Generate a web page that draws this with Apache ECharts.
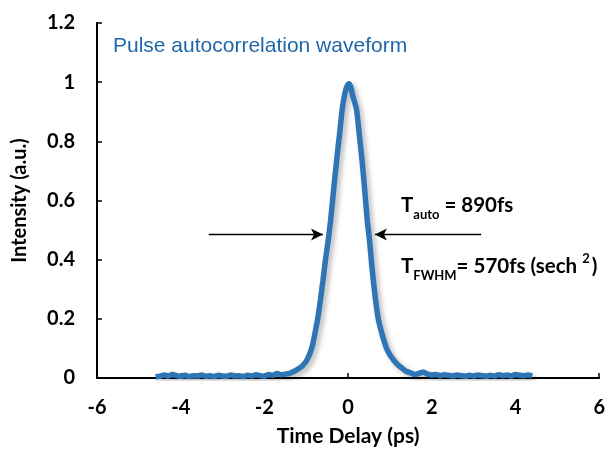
<!DOCTYPE html>
<html>
<head>
<meta charset="utf-8">
<script src="https://cdn.jsdelivr.net/npm/echarts@6/dist/echarts.min.js"></script>
<style>
html,body{margin:0;padding:0;background:#fff;}
#chart{width:608px;height:452px;}
</style>
</head>
<body>
<div id="chart"></div>
<script>
const timePs = [
  -4.6,-4.5,-4.4,-4.3,-4.2,-4.1,-4.0,-3.9,-3.8,-3.7,-3.6,-3.5,-3.4,-3.3,-3.2,-3.1,-3.0,-2.9,-2.8,-2.7,
  -2.6,-2.5,-2.4,-2.3,-2.2,-2.1,-2.0,-1.9,-1.8,-1.7,-1.6,-1.5,-1.4,-1.3,-1.2,-1.1,-1.0,-0.92,-0.85,-0.78,
  -0.72,-0.66,-0.6,-0.54,-0.48,-0.42,-0.35,-0.27,-0.2,-0.14,-0.08,-0.03,0.02,0.06,0.12,0.2,0.27,0.33,0.4,0.46,
  0.51,0.56,0.61,0.66,0.72,0.78,0.84,0.92,1.0,1.1,1.2,1.3,1.4,1.5,1.6,1.7,1.8,1.9,2.0,2.1,
  2.2,2.3,2.4,2.5,2.6,2.7,2.8,2.9,3.0,3.1,3.2,3.3,3.4,3.5,3.6,3.7,3.8,3.9,4.0,4.1,
  4.2,4.3,4.4
];
const intensity = [
  0.004,0.006,0.010,0.007,0.012,0.008,0.006,0.009,0.005,0.008,0.007,0.010,0.006,0.008,0.005,0.009,0.007,0.006,0.010,0.007,
  0.008,0.005,0.009,0.007,0.011,0.008,0.006,0.012,0.009,0.015,0.011,0.013,0.016,0.022,0.030,0.040,0.057,0.080,0.111,0.160,
  0.205,0.265,0.330,0.400,0.460,0.530,0.630,0.741,0.830,0.909,0.960,0.985,0.995,0.985,0.950,0.909,0.820,0.741,0.630,0.530,
  0.468,0.390,0.320,0.260,0.200,0.165,0.134,0.100,0.078,0.058,0.043,0.032,0.022,0.017,0.012,0.016,0.020,0.013,0.010,0.012,
  0.008,0.011,0.009,0.007,0.010,0.008,0.006,0.009,0.007,0.010,0.008,0.006,0.009,0.007,0.011,0.008,0.010,0.007,0.012,0.009,
  0.008,0.010,0.007
];
const xTicks = { min: -6, max: 6, step: 2 };
const yTicks = { min: 0, max: 1.2, step: 0.2 };
const titleText = 'Pulse autocorrelation waveform';
const arrowLevel = 0.485;
const leftArrow = [-3.33, -0.6];
const rightArrow = [3.18, 0.64];

const points = timePs.map((t, i) => [t, intensity[i]]);
const chart = echarts.init(document.getElementById('chart'));
const boldFont = 'Lato';
const bigTxt = { fontFamily: boldFont, fontWeight: 'bold', fontSize: 20.5, color: '#000', padding: [0,0,5,0], verticalAlign: 'bottom' };
const subTxt = { fontFamily: boldFont, fontWeight: 'bold', fontSize: 13, color: '#000', verticalAlign: 'bottom' };
const supTxt = { fontFamily: boldFont, fontWeight: 'bold', fontSize: 13, color: '#000', padding: [0,2,17,5], verticalAlign: 'bottom' };

chart.setOption({
  animation: false,
  grid: { left: 97, right: 8, top: 23, bottom: 71 },
  xAxis: {
    type: 'value', min: xTicks.min, max: xTicks.max, interval: xTicks.step,
    name: 'Time Delay (ps)', nameLocation: 'middle', nameGap: 48,
    nameTextStyle: { fontFamily: boldFont, fontWeight: 'bold', fontSize: 21, color: '#000' },
    axisLine: { onZero: false, lineStyle: { color: '#000', width: 2 } },
    axisTick: { inside: true, length: 5, lineStyle: { color: '#000', width: 1.5 } },
    axisLabel: { fontFamily: boldFont, fontWeight: 'bold', fontSize: 20, color: '#000', margin: 20 },
    splitLine: { show: false }
  },
  yAxis: {
    type: 'value', min: yTicks.min, max: yTicks.max, interval: yTicks.step,
    name: 'Intensity (a.u.)', nameLocation: 'middle', nameGap: 67,
    nameTextStyle: { fontFamily: boldFont, fontWeight: 'bold', fontSize: 20, color: '#000' },
    axisLine: { show: true, onZero: false, lineStyle: { color: '#000', width: 2 } },
    axisTick: { show: true, inside: true, length: 5, lineStyle: { color: '#000', width: 1.5 } },
    axisLabel: { fontFamily: boldFont, fontWeight: 'bold', fontSize: 20, color: '#000', margin: 22 },
    splitLine: { show: false }
  },
  series: [{
    type: 'line',
    data: points,
    showSymbol: false,
    smooth: 0.2,
    lineStyle: { color: '#2E75B6', width: 5.5, shadowColor: 'rgba(0,0,0,0.28)', shadowBlur: 5, shadowOffsetX: 3, shadowOffsetY: 3 },
    markLine: {
      silent: true,
      symbol: ['none', 'arrow'],
      symbolSize: [9, 12],
      label: { show: false },
      lineStyle: { color: '#000', width: 1.3, type: 'solid' },
      data: [
        [{ coord: [leftArrow[0], arrowLevel] }, { coord: [leftArrow[1], arrowLevel] }],
        [{ coord: [rightArrow[0], arrowLevel] }, { coord: [rightArrow[1], arrowLevel] }]
      ]
    }
  }],
  graphic: [
    { type: 'text', left: 113, top: 36, style: { text: titleText, fontFamily: 'Liberation Sans', fontSize: 21, fill: '#1F67AA' } },
    { type: 'text', left: 401, top: 195, style: {
      text: '{b|T}{s|auto}{b| = 890fs}',
      rich: { b: bigTxt, s: subTxt }
    } },
    { type: 'text', left: 401, top: 252, style: {
      text: '{b|T}{s|FWHM}{b|= 570fs (sech}{p|2}{b|)}',
      rich: { b: bigTxt, s: subTxt, p: supTxt }
    } }
  ]
});
</script>
</body>
</html>
